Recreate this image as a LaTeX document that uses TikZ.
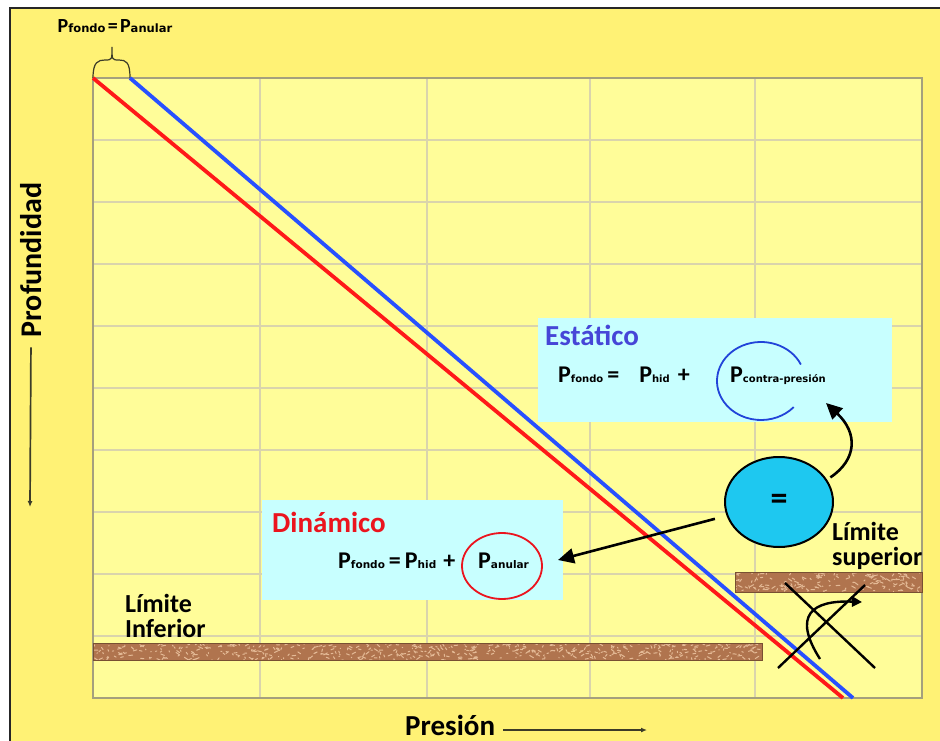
\documentclass[tikz,border=0pt]{standalone}
\usepackage{fontspec}
\setmainfont{Carlito}
\newfontfamily\subfont{DejaVu Sans}
\usetikzlibrary{arrows.meta,shapes.geometric}
\definecolor{amarillo}{RGB}{255,242,117}
\definecolor{amarilloclaro}{RGB}{255,253,153}
\definecolor{bordegris}{RGB}{165,160,125}
\definecolor{rejilla}{RGB}{218,212,172}
\definecolor{cajacyan}{RGB}{200,255,255}
\definecolor{celeste}{RGB}{30,200,240}
\definecolor{azulest}{RGB}{70,70,215}
\definecolor{azullinea}{RGB}{40,80,255}
\definecolor{rojolinea}{RGB}{255,25,25}
\definecolor{rojodin}{RGB}{235,20,30}
\definecolor{rocacafe}{RGB}{176,116,78}
\definecolor{rocaclara}{RGB}{228,186,150}
\definecolor{rocaborde}{RGB}{120,80,50}
\definecolor{ejegris}{RGB}{60,60,40}

% presion con subindice
\newcommand{\Psub}[3]{{\fontsize{#1}{#1}\selectfont P}{\subfont\bfseries\fontsize{#2}{#2}\selectfont #3}}

\begin{document}
\begin{tikzpicture}[x=1pt, y=-1pt,
  every node/.style={font=\bfseries, inner sep=0pt},
  caja/.style={fill=cajacyan, draw=none},
  titulo/.style={anchor=base west, font=\bfseries\fontsize{29}{29}\selectfont},
  limite/.style={anchor=base west, align=left, font=\bfseries\fontsize{26}{25}\selectfont},
  ecuacion/.style={anchor=base west, font=\bfseries\fontsize{24}{24}\selectfont},
  roca/.style={fill=rocacafe, draw=rocaborde, line width=0.8pt},
  flecha/.style={-{Triangle[length=16pt,width=15pt]}, line width=2.6pt, black},
  trazo/.style={line width=2.4pt, black},
  eje/.style={-{Latex[length=6pt,width=5pt]}, line width=1.7pt, ejegris},
]
\useasboundingbox (0,0) rectangle (940,741);

% marco
\fill[white] (0,0) rectangle (940,741);
\fill[amarillo] (10,8) rectangle (940,741);
\draw[line width=2.5pt, black!85] (10,741) -- (10,8) -- (940,8);

% zona del grafico
\fill[amarilloclaro] (93,78) rectangle (922,698);
\foreach \x in {260,427,590,755}
  \draw[rejilla, line width=1.2pt] (\x,78) -- (\x,698);
\foreach \y in {140,202,264,326,388,450,512,574,636}
  \draw[rejilla, line width=1.2pt] (93,\y) -- (922,\y);
\draw[bordegris, line width=1.5pt] (93,78) rectangle (922,698);

% llave y rotulo superior
\draw[ejegris, line width=1.2pt] (93,78) .. controls (93,62) and (98,60) .. (105,60)
  .. controls (112,60) .. (112,47) .. controls (112,60) .. (119,60)
  .. controls (126,60) and (130,62) .. (130,78);
\node[anchor=base] (igualdad) at (115,33)
  {\Psub{20}{11.5}{fondo} {\fontsize{20}{20}\selectfont=} \Psub{20}{11.5}{anular}};

% perfiles de presion
\coordinate (inicioazul) at (130,78);
\coordinate (finazul) at (853,698);
\coordinate (iniciorojo) at (93,78);
\coordinate (finrojo) at (843,698);
\draw[azullinea, line width=3.8pt] (inicioazul) -- (finazul);
\draw[rojolinea, line width=3.8pt] (iniciorojo) -- (finrojo);

% estatico
\fill[caja] (538,318) rectangle (892,422);
\node[titulo, text=azulest] (estatico) at (545,345) {Estático};
\node[ecuacion] (ecest) at (558,382)
  {\Psub{24}{10}{fondo}\,=\hspace{20pt}\Psub{24}{10}{hid}\hspace{8pt}+};
\node[anchor=base west] (contra) at (730,382) {\Psub{24}{10}{contra-presión}};
\coordinate (arco) at (761,381);
\draw[azullinea!85!black, line width=1.8pt] (arco) ++(-25:44 and 39)
  arc[start angle=-25, end angle=-318, x radius=44, y radius=39];
\coordinate (puntaest) at (826,403);

% dinamico
\fill[caja] (262,500) rectangle (563,600);
\node[titulo, text=rojodin] (dinamico) at (272,532) {Dinámico};
\node[ecuacion] (ecdin) at (338,568)
  {\Psub{24}{10.5}{fondo}\,=\,\Psub{24}{10.5}{hid}\hspace{7pt}+};
\node[ellipse, draw=rojodin, line width=1.8pt, minimum width=80pt, minimum height=66pt]
  (anular) at (502,566) {};
\node[anchor=base west] (panular) at (478,568) {\Psub{24}{10.5}{anular}};
\coordinate (puntadin) at (558,560);

% igualdad central
\node[ellipse, draw=black, line width=2pt, fill=celeste, minimum width=108pt,
  minimum height=90pt, font=\bfseries\fontsize{34}{34}\selectfont] (igual) at (779,502) {=};
\draw[flecha, shorten <=12pt] (igual) -- (puntadin);
\draw[flecha, shorten <=4pt] (igual.25) .. controls +(30,-20) and +(32,30) .. (puntaest);

% limites
\node[limite] (liminf) at (125,637) {Límite\\Inferior};
\node[limite] (limsup) at (832,565) {Límite\\superior};
\pgfmathsetseed{11}
\fill[roca] (93,643) rectangle (762,660);
\begin{scope}
  \clip (94,644) rectangle (761,659);
  \foreach \k in {1,...,520}
    \draw[rocaclara, line width=1pt, line cap=round] ({93+669*rnd},{643+17*rnd}) -- ++({8*rnd-4},{5*rnd-2.5});
\end{scope}
\fill[roca] (735,572) rectangle (922,592);
\begin{scope}
  \clip (736,573) rectangle (921,591);
  \foreach \k in {1,...,170}
    \draw[rocaclara, line width=1pt, line cap=round] ({735+187*rnd},{572+20*rnd}) -- ++({8*rnd-4},{5*rnd-2.5});
\end{scope}

% cruz y giro
\coordinate (cruza1) at (785,583);
\coordinate (cruza2) at (875,668);
\coordinate (cruzb1) at (778,668);
\coordinate (cruzb2) at (865,585);
\coordinate (giro1) at (820,659);
\coordinate (giro2) at (862,602);
\draw[trazo] (cruza1) -- (cruza2);
\draw[trazo] (cruzb1) -- (cruzb2);
\draw[trazo, -{Triangle[length=10pt,width=10pt]}] (giro1) .. controls (792,615) and (812,600) .. (giro2);

% ejes
\node[rotate=90, font=\bfseries\fontsize{30}{30}\selectfont] (profundidad) at (31,260) {Profundidad};
\coordinate (finprof) at (30,507);
\draw[eje, shorten <=10pt] (profundidad.west) -- (finprof);
\node[anchor=base west, font=\bfseries\fontsize{29}{29}\selectfont] (presion) at (405,735) {Presión};
\coordinate (finpres) at (647,730);
\draw[eje, shorten <=8pt] (presion.east |- finpres) -- (finpres);

\end{tikzpicture}
\end{document}
